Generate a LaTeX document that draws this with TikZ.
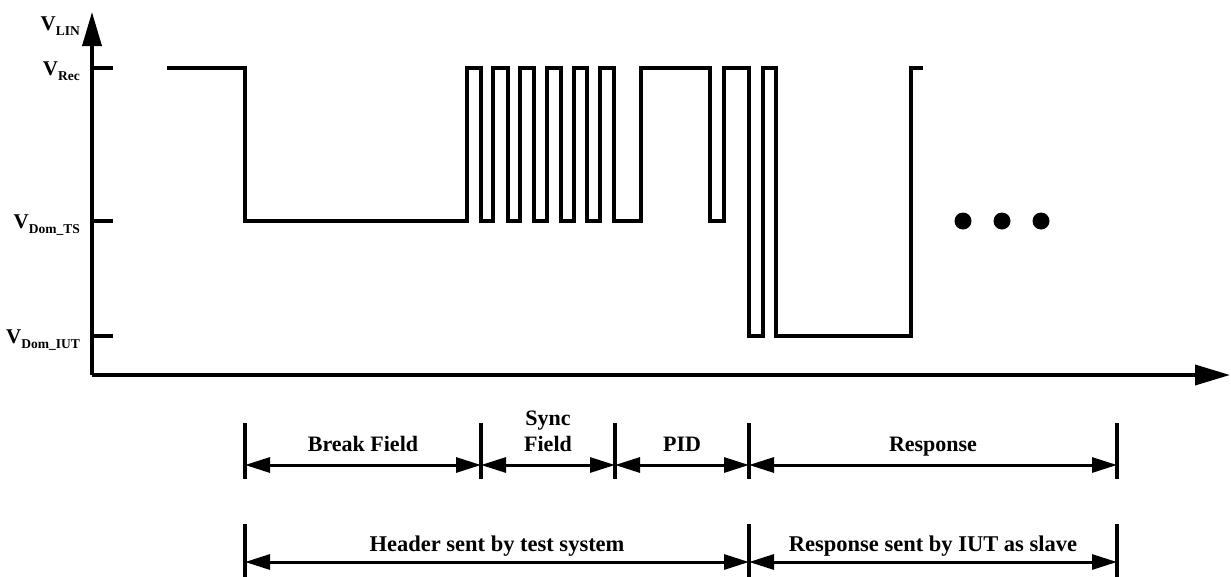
\documentclass[tikz,border=0pt]{standalone}
\usepackage{fontspec}
\setmainfont{Liberation Serif}
\usetikzlibrary{arrows.meta}
\tikzset{
  wave/.style={line width=3.2pt, line join=miter},
  axisline/.style={line width=3.6pt},
  tickline/.style={line width=3.4pt},
  dimbar/.style={line width=3.2pt},
  dimarrow/.style={line width=3pt, {Triangle[length=25pt,width=15pt]}-{Triangle[length=25pt,width=15pt]}},
  lbl/.style={font=\fontsize{22}{24}\selectfont\bfseries, inner sep=0pt},
  lbltwo/.style={font=\fontsize{22.5}{25}\selectfont\bfseries, inner sep=0pt},
  ylbl/.style={font=\fontsize{21}{22}\selectfont\bfseries, inner sep=0pt, anchor=base east},
  dot/.style={circle, fill=black, minimum size=17pt, inner sep=0pt}
}
\newcommand{\vsub}[1]{V\raisebox{-0.28em}{\fontsize{13.5}{13.5}\selectfont #1}}
\begin{document}
\begin{tikzpicture}[x=1pt,y=-1pt]
\useasboundingbox (0,0) rectangle (1231,576);
% axes
\coordinate (O) at (92,375);
\coordinate (Ytop) at (92,12);
\coordinate (Xend) at (1230,375);
\draw[axisline, -{Triangle[length=34pt,width=19pt]}] (O) -- (Ytop);
\draw[axisline, -{Triangle[length=35pt,width=20pt]}] (O) -- (Xend);
% ticks
\coordinate (t1a) at (92,68);  \coordinate (t1b) at (113,68);
\coordinate (t2a) at (92,221); \coordinate (t2b) at (113,221);
\coordinate (t3a) at (92,336); \coordinate (t3b) at (113,336);
\draw[tickline] (t1a) -- (t1b);
\draw[tickline] (t2a) -- (t2b);
\draw[tickline] (t3a) -- (t3b);
% y labels
\node[ylbl] (lLin) at (80,30) {\vsub{LIN}};
\node[ylbl] (lRec) at (80,75) {\vsub{Rec}};
\node[ylbl] (lTS) at (80,228) {\vsub{Dom\_TS}};
\node[ylbl] (lIUT) at (80,343) {\vsub{Dom\_IUT}};
% waveform
\draw[wave] (167,68) -- (245,68) -- (245,221) -- (467,221) -- (467,68)
  -- (481,68) -- (481,221) -- (493,221) -- (493,68)
  -- (508,68) -- (508,221) -- (520,221) -- (520,68)
  -- (534,68) -- (534,221) -- (547,221) -- (547,68)
  -- (561,68) -- (561,221) -- (574,221) -- (574,68)
  -- (587,68) -- (587,221) -- (600,221) -- (600,68)
  -- (614,68) -- (614,221) -- (641,221) -- (641,68)
  -- (710,68) -- (710,221) -- (724,221) -- (724,68)
  -- (749,68) -- (749,336) -- (763,336) -- (763,68)
  -- (776,68) -- (776,336) -- (911,336) -- (911,68) -- (923,68);
% dots
\node[dot] (d1) at (963,221) {};
\node[dot] (d2) at (1002,221) {};
\node[dot] (d3) at (1041,221) {};
% row 1 bars
\foreach \n/\x in {a/245,b/481,c/615,d/749,e/1117}{
  \coordinate (r1\n top) at (\x,423);
  \coordinate (r1\n bot) at (\x,479);
  \coordinate (r1\n) at (\x,465);
  \draw[dimbar] (r1\n top) -- (r1\n bot);
}
\draw[dimarrow] (r1a) -- (r1b);
\draw[dimarrow] (r1b) -- (r1c);
\draw[dimarrow] (r1c) -- (r1d);
\draw[dimarrow] (r1d) -- (r1e);
\node[lbl, anchor=base] (break) at (363,451) {Break Field};
\node[lbl, anchor=base] (sync) at (548,425) {Sync};
\node[lbl, anchor=base] (syncf) at (548,451) {Field};
\node[lbl, anchor=base] (pid) at (682,451) {PID};
\node[lbl, anchor=base] (resp) at (933,451) {Response};
% row 2 bars
\foreach \n/\x in {a/245,b/749,c/1117}{
  \coordinate (r2\n top) at (\x,524);
  \coordinate (r2\n bot) at (\x,577);
  \coordinate (r2\n) at (\x,562);
  \draw[dimbar] (r2\n top) -- (r2\n bot);
}
\draw[dimarrow] (r2a) -- (r2b);
\draw[dimarrow] (r2b) -- (r2c);
\node[lbltwo, anchor=base] (header) at (497,551) {Header sent by test system};
\node[lbltwo, anchor=base] (respiut) at (933,551) {Response sent by IUT as slave};
\end{tikzpicture}
\end{document}
